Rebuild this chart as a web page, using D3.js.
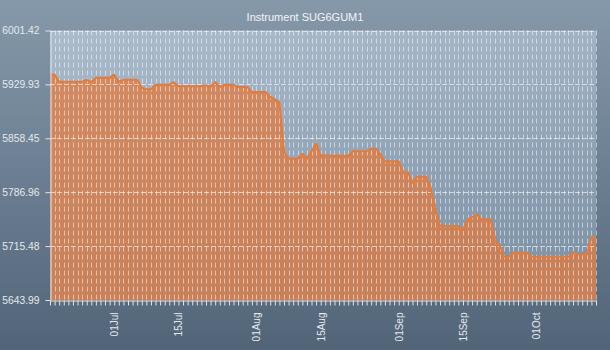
<!DOCTYPE html>
<html>
<head>
<meta charset="utf-8">
<script src="https://cdn.jsdelivr.net/npm/d3@7/dist/d3.min.js"></script>
<style>
  html, body { margin: 0; padding: 0; background: #6f8296; }
  svg { display: block; }
  text { font-family: "Liberation Sans", Arial, sans-serif; }
</style>
</head>
<body>
<svg id="chart" width="610" height="350"></svg>
<script>
// Instrument SUG6GUM1 — closing level by date
const title = "Instrument SUG6GUM1";

const dates = [
  "2016-06-17","2016-06-18","2016-06-19","2016-06-24","2016-06-25","2016-06-26","2016-06-27","2016-06-30",
  "2016-07-01","2016-07-02","2016-07-03","2016-07-06","2016-07-07","2016-07-08","2016-07-09","2016-07-10",
  "2016-07-13","2016-07-14","2016-07-15","2016-07-20","2016-07-21","2016-07-22","2016-07-23","2016-07-24",
  "2016-07-25","2016-07-27","2016-07-28","2016-07-30","2016-07-31","2016-08-03","2016-08-04","2016-08-05",
  "2016-08-06","2016-08-07","2016-08-08","2016-08-10","2016-08-11","2016-08-12","2016-08-14","2016-08-15",
  "2016-08-17","2016-08-18","2016-08-19","2016-08-20","2016-08-21","2016-08-22","2016-08-25","2016-08-26",
  "2016-08-27","2016-08-28","2016-08-29","2016-09-01","2016-09-02","2016-09-03","2016-09-04","2016-09-05",
  "2016-09-07","2016-09-08","2016-09-09","2016-09-10","2016-09-14","2016-09-15","2016-09-16","2016-09-17",
  "2016-09-18","2016-09-19","2016-09-21","2016-09-22","2016-09-23","2016-09-24","2016-09-25","2016-09-26",
  "2016-09-29","2016-09-30","2016-10-08","2016-10-09","2016-10-10","2016-10-12","2016-10-13","2016-10-14"
];

const values = [
  5943.06,5943.06,5933.51,5933.51,5935.77,5933.12,5938.90,5938.90,
  5942.80,5933.50,5936.00,5936.00,5925.56,5923.43,5923.43,5929.50,
  5929.50,5932.70,5927.40,5927.40,5929.00,5926.50,5933.10,5926.60,
  5929.50,5929.50,5926.50,5926.50,5920.00,5920.00,5913.20,5910.20,
  5905.90,5840.30,5831.40,5831.40,5837.80,5831.40,5851.30,5836.00,
  5835.80,5835.00,5835.50,5835.00,5835.30,5841.20,5841.20,5844.65,
  5844.65,5837.60,5827.90,5827.90,5813.35,5813.35,5799.60,5807.50,
  5807.50,5792.10,5762.70,5742.10,5742.10,5736.80,5751.00,5753.70,
  5757.70,5751.00,5751.00,5721.80,5716.90,5701.40,5701.40,5706.70,
  5706.70,5701.40,5701.40,5706.70,5704.30,5704.30,5726.90,5726.90
];

const yTickValues = [6001.42, 5929.93, 5858.45, 5786.96, 5715.48, 5643.99];

const parse = d3.timeParse("%Y-%m-%d");
const series = dates.map((d, i) => ({ date: parse(d), value: values[i] }));

const W = 610, H = 350;
const margin = { left: 50, right: 14, top: 30.5, bottom: 50 };
const svg = d3.select("#chart");

const defs = svg.append("defs");
const bg = defs.append("linearGradient").attr("id", "bgGrad")
  .attr("x1", 0).attr("y1", 0).attr("x2", 0).attr("y2", 1);
bg.append("stop").attr("offset", "0%").attr("stop-color", "#8699ab");
bg.append("stop").attr("offset", "100%").attr("stop-color", "#526478");

const pg = defs.append("linearGradient").attr("id", "plotGrad")
  .attr("x1", 0).attr("y1", 0).attr("x2", 0.25).attr("y2", 1);
pg.append("stop").attr("offset", "0%").attr("stop-color", "#abbccc");
pg.append("stop").attr("offset", "100%").attr("stop-color", "#8094a8");

svg.append("rect").attr("width", W).attr("height", H).attr("fill", "url(#bgGrad)");

const x = d3.scaleTime()
  .domain(d3.extent(series, d => d.date))
  .range([margin.left, W - margin.right]);

const y = d3.scaleLinear()
  .domain([yTickValues[yTickValues.length - 1], yTickValues[0]])
  .range([H - margin.bottom, margin.top]);

const x0 = margin.left, x1 = W - margin.right;
const y0 = H - margin.bottom, y1 = margin.top;

svg.append("rect")
  .attr("x", x0).attr("y", y1)
  .attr("width", x1 - x0).attr("height", y0 - y1)
  .attr("fill", "url(#plotGrad)");

// filled area under the series
const area = d3.area()
  .x(d => x(d.date))
  .y0(y0)
  .y1(d => y(d.value));

svg.append("path")
  .datum(series)
  .attr("d", area)
  .attr("fill", "#e3793a")
  .attr("fill-opacity", 0.72);

// daily vertical grid
const days = d3.timeDay.range(x.domain()[0], d3.timeDay.offset(x.domain()[1], 1));
svg.append("g")
  .selectAll("line")
  .data(days.slice(1))
  .join("line")
  .attr("x1", d => Math.round(x(d)) + 0.5)
  .attr("x2", d => Math.round(x(d)) + 0.5)
  .attr("y1", y1)
  .attr("y2", y0)
  .attr("stroke", "#ffffff")
  .attr("stroke-opacity", 0.5)
  .attr("stroke-dasharray", "5,3");

// horizontal grid at each y tick
svg.append("g")
  .selectAll("line")
  .data(yTickValues.slice(0, -1))
  .join("line")
  .attr("x1", x0)
  .attr("x2", x1)
  .attr("y1", d => Math.round(y(d)) + 0.5)
  .attr("y2", d => Math.round(y(d)) + 0.5)
  .attr("stroke", "#ffffff")
  .attr("stroke-opacity", 0.6)
  .attr("stroke-dasharray", "5,2");

// series line
const line = d3.line()
  .x(d => x(d.date))
  .y(d => y(d.value));

svg.append("path")
  .datum(series)
  .attr("d", line)
  .attr("fill", "none")
  .attr("stroke", "#f2772a")
  .attr("stroke-width", 2)
  .attr("stroke-linejoin", "round");

const axisColor = "#dfe5eb";
const labelColor = "#e4e9ee";

// y axis
const yAxis = svg.append("g")
  .attr("transform", `translate(${x0 + 0.5},0)`)
  .call(d3.axisLeft(y).tickValues(yTickValues).tickFormat(d3.format(".2f"))
    .tickSize(5).tickPadding(6).tickSizeOuter(0));
yAxis.select(".domain").attr("stroke", axisColor);
yAxis.selectAll(".tick line").attr("stroke", axisColor);
yAxis.selectAll("text")
  .attr("fill", labelColor)
  .style("font-size", "10.3px");

// x axis, one tick per day, labels on the 1st and 15th
const fmt = d3.timeFormat("%d%b");
const xAxis = svg.append("g")
  .attr("transform", `translate(0,${y0 + 0.5})`)
  .call(d3.axisBottom(x)
    .ticks(d3.timeDay.every(1))
    .tickFormat(d => (d.getDate() === 1 || d.getDate() === 15) ? fmt(d) : "")
    .tickSize(5).tickSizeOuter(0));
xAxis.select(".domain").attr("stroke", axisColor);
xAxis.selectAll(".tick line").attr("stroke", axisColor);
xAxis.selectAll("text")
  .attr("fill", labelColor)
  .style("font-size", "10px")
  .style("text-anchor", "end")
  .attr("transform", "rotate(-90)")
  .attr("x", -12)
  .attr("y", 0)
  .attr("dy", "0.35em");

// title
svg.append("text")
  .attr("x", W / 2)
  .attr("y", 21)
  .attr("text-anchor", "middle")
  .attr("fill", "#f2f4f6")
  .style("font-size", "11px")
  .text(title);
</script>
</body>
</html>
